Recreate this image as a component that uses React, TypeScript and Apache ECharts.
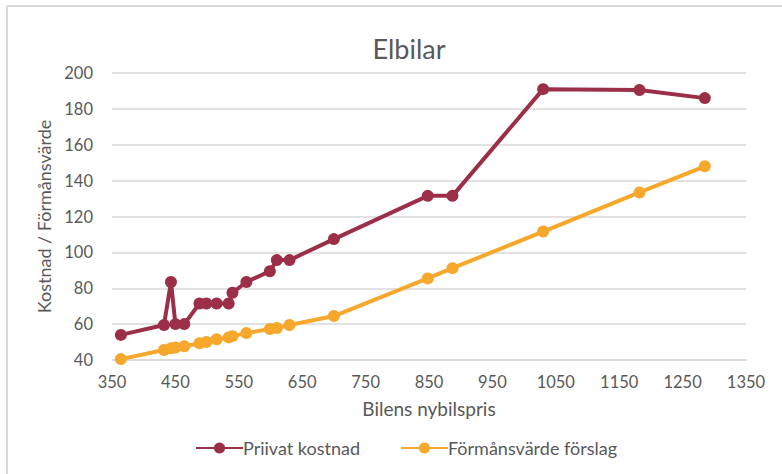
import React, { useEffect, useRef } from "react";
import * as echarts from "echarts";

const prices = [364, 432, 443, 450, 464, 488, 499, 515, 534, 540, 562, 599, 610, 630, 700, 848, 887, 1030, 1182, 1285];
const privatKostnad = [54, 59.5, 83.5, 60, 60, 71.5, 71.5, 71.5, 71.5, 77.5, 83.5, 89.5, 95.7, 95.7, 107.4, 131.5, 131.5, 191, 190.5, 186];
const formansvarde = [40.5, 45.6, 46.5, 47, 47.6, 49.3, 50, 51.5, 52.6, 53.3, 55, 57.3, 57.8, 59.5, 64.5, 85.5, 91.2, 111.6, 133.4, 148];
const yTicks = [40, 60, 80, 100, 120, 140, 160, 180, 200];
const xTicks = [350, 450, 550, 650, 750, 850, 950, 1050, 1150, 1250, 1350];

const FONT = "Lato, 'Open Sans', sans-serif";
const RED = "#9C2F48";
const YELLOW = "#F5A82B";
const TXT = "#595959";

export default function App() {
  const ref = useRef<HTMLDivElement>(null);
  useEffect(() => {
    if (!ref.current) return;
    const chart = echarts.init(ref.current, null, { renderer: "svg" });
    const pr = prices.map((x, i) => [x, privatKostnad[i]]);
    const fv = prices.map((x, i) => [x, formansvarde[i]]);
    chart.setOption({
      animation: false,
      backgroundColor: "#ffffff",
      textStyle: { fontFamily: FONT },
      title: {
        text: "Elbilar",
        left: 404,
        textAlign: "center",
        top: 30,
        textStyle: { fontFamily: FONT, fontSize: 27, fontWeight: "normal", color: TXT },
      },
      grid: { left: 112, right: 36, top: 73, bottom: 114 },
      legend: {
        left: 190,
        top: 434,
        itemWidth: 47,
        itemHeight: 14,
        itemGap: 40,
        textStyle: { fontFamily: FONT, fontSize: 18, color: TXT, padding: [0, 0, 0, -5] },
        data: ["Priivat kostnad", "Förmånsvärde förslag"],
      },
      graphic: [
        { type: "line", shape: { x1: 7, y1: 6, x2: 7, y2: 474 }, style: { stroke: "#d9d9d9", lineWidth: 2 } },
        { type: "line", shape: { x1: 7, y1: 6, x2: 782, y2: 6 }, style: { stroke: "#d9d9d9", lineWidth: 2 } },
      ],
      xAxis: {
        type: "value",
        min: xTicks[0],
        max: xTicks[xTicks.length - 1],
        interval: 100,
        name: "Bilens nybilspris",
        nameLocation: "middle",
        nameGap: 39,
        nameTextStyle: { fontFamily: FONT, fontSize: 19, color: TXT },
        axisLine: { show: true, lineStyle: { color: "#d9d9d9", width: 1.5 } },
        axisTick: { show: false },
        splitLine: { show: false },
        axisLabel: { fontFamily: FONT, fontSize: 16.5, color: TXT, margin: 13, formatter: (v: number) => String(v) },
      },
      yAxis: {
        type: "value",
        min: yTicks[0],
        max: yTicks[yTicks.length - 1],
        interval: 20,
        name: "Kostnad / Förmånsvärde",
        nameLocation: "middle",
        nameGap: 55,
        nameTextStyle: { fontFamily: FONT, fontSize: 18, color: TXT },
        axisLine: { show: false },
        axisTick: { show: false },
        splitLine: { lineStyle: { color: "#d9d9d9", width: 1.5 } },
        axisLabel: { fontFamily: FONT, fontSize: 16.5, color: TXT, margin: 19, formatter: (v: number) => String(v) },
      },
      series: [
        {
          name: "Priivat kostnad",
          type: "line",
          data: pr,
          symbol: "circle",
          symbolSize: 12,
          lineStyle: { color: RED, width: 4 },
          itemStyle: { color: RED },
        },
        {
          name: "Förmånsvärde förslag",
          type: "line",
          data: fv,
          symbol: "circle",
          symbolSize: 12,
          lineStyle: { color: YELLOW, width: 4 },
          itemStyle: { color: YELLOW },
        },
      ],
    });
    return () => chart.dispose();
  }, []);
  return (
    <div
      ref={ref}
      style={{ position: "fixed", left: 0, top: 0, width: 782, height: 474, background: "#fff" }}
    />
  );
}
